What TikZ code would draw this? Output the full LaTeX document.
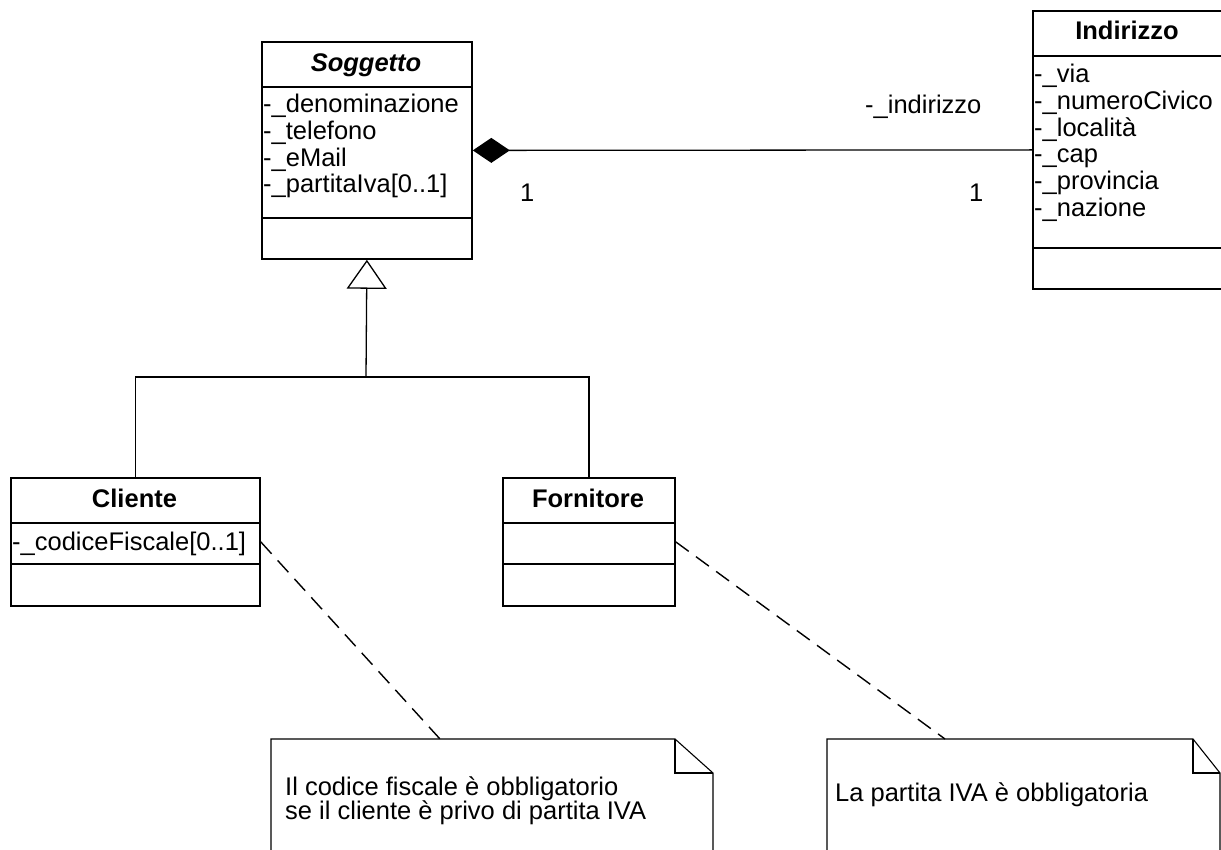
\documentclass[tikz,border=0pt]{standalone}
\usepackage{fontspec}
\setmainfont{Liberation Sans}
\usetikzlibrary{arrows.meta}
\newcommand\umlfs{\fontsize{25.5}{27}\selectfont}
\begin{document}
\begin{tikzpicture}[x=1pt,y=-1pt,
  box/.style={draw, line width=1.8pt, rectangle, inner sep=0pt, anchor=north west},
  sepl/.style={line width=1.8pt},
  attr/.style={inner sep=0pt, anchor=base west, font=\umlfs},
  head/.style={inner sep=0pt, anchor=base, font=\umlfs\bfseries},
  conn/.style={line width=1.3pt},
  notel/.style={line width=1.4pt, dash pattern=on 16pt off 9pt},
  noteb/.style={line width=1.1pt},
  area/.style={inner sep=0pt, anchor=north west}]
\useasboundingbox (0,0) rectangle (1221,850);

% Soggetto
\node[box, minimum width=210pt, minimum height=217pt] (sog) at (261,41) {};
\draw[sepl] (261,87) -- (471,87);
\draw[sepl] (261,218) -- (471,218);
\node[head, font=\umlfs\bfseries\itshape] (sogT) at (366,72) {Soggetto};
\node[attr] (s1) at (263,113) {-\_denominazione};
\node[attr] (s2) at (263,140) {-\_telefono};
\node[attr] (s3) at (263,167) {-\_eMail};
\node[attr] (s4) at (263,193) {-\_partitaIva[0..1]};

% Indirizzo
\node[box, minimum width=192pt, minimum height=278pt] (ind) at (1032,10) {};
\draw[sepl] (1032,56) -- (1224,56);
\draw[sepl] (1032,248) -- (1224,248);
\node[head] (indT) at (1127,40) {Indirizzo};
\node[attr] (i1) at (1034,83) {-\_via};
\node[attr] (i2) at (1034,110) {-\_numeroCivico};
\node[attr] (i3) at (1034,137) {-\_località};
\node[attr] (i4) at (1034,163) {-\_cap};
\node[attr] (i5) at (1034,190) {-\_provincia};
\node[attr] (i6) at (1034,217) {-\_nazione};

% Cliente
\node[box, minimum width=249pt, minimum height=128pt] (cli) at (10,477) {};
\draw[sepl] (10,523) -- (259,523);
\draw[sepl] (10,564) -- (259,564);
\node[head] (cliT) at (134.5,507) {Cliente};
\node[attr] (c1) at (12,550) {-\_codiceFiscale[0..1]};

% Fornitore
\node[box, minimum width=172pt, minimum height=128pt] (for) at (502,477) {};
\draw[sepl] (502,523) -- (674,523);
\draw[sepl] (502,564) -- (674,564);
\node[head] (forT) at (588,507) {Fornitore};

% composition
\draw[conn, {Diamond[length=37pt, width=25pt, fill=black]}-] (sog.east) -- (ind.west);
\node[attr] (rolel) at (865,114) {-\_indirizzo};
\node[attr] (m1) at (520,202) {1};
\node[attr] (m2) at (969,202) {1};

% generalization
\coordinate (gen) at (366,377);
\draw[conn, -{Triangle[open, length=29pt, width=40pt, line width=1.3pt]}] (gen) -- (sog.south);
\draw[conn] (cli.north) |- (gen) -| (for.north);

% notes
\node[area, minimum width=442pt, minimum height=115pt] (n1) at (271,739) {};
\draw[noteb] (271,852) -- (271,739) -- (675,739) -- (713,773) -- (713,852);
\draw[noteb] (675,739) -- (675,773) -- (713,773);
\node[attr] (n1t1) at (285,795) {Il codice fiscale è obbligatorio};
\node[attr] (n1t2) at (285,819) {se il cliente è privo di partita IVA};

\node[area, minimum width=393pt, minimum height=115pt] (n2) at (827,739) {};
\draw[noteb] (827,852) -- (827,739) -- (1193,739) -- (1220,773) -- (1220,852);
\draw[noteb] (1193,739) -- (1193,773) -- (1220,773);
\node[attr] (n2t1) at (835,801) {La partita IVA è obbligatoria};

\coordinate (n1a) at (440,739);
\coordinate (n2a) at (945,739);
\draw[notel] (cli.east) -- (n1a);
\draw[notel] (for.east) -- (n2a);
\end{tikzpicture}
\end{document}
